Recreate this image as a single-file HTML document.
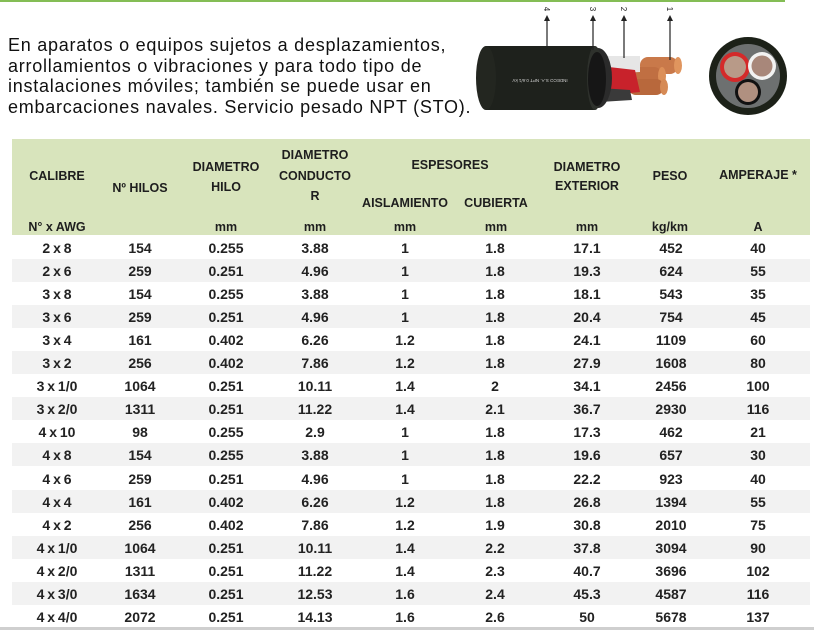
<!DOCTYPE html>
<html><head><meta charset="utf-8">
<style>
html,body{margin:0;padding:0;background:#fff;}
body{width:814px;height:630px;position:relative;overflow:hidden;font-family:"Liberation Sans",Arial,sans-serif;}
.t{position:absolute;width:140px;text-align:center;white-space:nowrap;line-height:16px;color:#1e1e1e;}
.h{font-weight:bold;font-size:12.5px;}
.d{font-weight:bold;font-size:14px;word-spacing:-1px;color:#222;}
.para{position:absolute;left:8px;top:35px;font-size:18px;line-height:20.5px;letter-spacing:0.75px;color:#111;white-space:nowrap;}
.row{position:absolute;left:12px;width:798px;height:23.1px;}
</style></head><body>
<div style="position:absolute;left:0;top:0;width:785px;height:2px;background:#84bd55;"></div>

<div class="para">En aparatos o equipos sujetos a desplazamientos,<br>arrollamientos o vibraciones y para todo tipo de<br>instalaciones móviles; también se puede usar en<br>embarcaciones navales. Servicio pesado NPT (STO).</div>

<svg style="position:absolute;left:0;top:0" width="814" height="130" xmlns="http://www.w3.org/2000/svg">
  <rect x="640" y="57" width="38" height="17" rx="8" fill="#c9794a"/>
  <ellipse cx="678" cy="65.5" rx="4" ry="8.5" fill="#e0955e"/>
  <rect x="630" y="67" width="32" height="18" rx="8" fill="#c06f42"/>
  <ellipse cx="662" cy="76" rx="4" ry="9" fill="#dc8f58"/>
  <rect x="628" y="79" width="36" height="16" rx="8" fill="#b8683c"/>
  <ellipse cx="664" cy="87" rx="4" ry="8" fill="#d68a55"/>
  <path d="M600 56 L640 56 L640 72 L600 74 Z" fill="#e6e6e6"/>
  <path d="M600 66 L635 70 L640 92 L600 96 Z" fill="#c8222b"/>
  <path d="M600 88 L630 90 L632 100 L600 102 Z" fill="#3a3a3a"/>
  <ellipse cx="598" cy="78" rx="14" ry="30" fill="#2b2b2b"/>
  <path d="M486 46 L595 46 L595 110 L486 110 Z" fill="#1e211c"/>
  <ellipse cx="486" cy="78" rx="10" ry="32" fill="#232620"/>
  <ellipse cx="595" cy="78" rx="8" ry="32" fill="#2e312c"/>
  <ellipse cx="597" cy="79" rx="9" ry="27" fill="#161616"/>
  <text x="540" y="83" font-size="4.5" fill="#cfcfcf" text-anchor="middle" transform="rotate(180 540 81)" font-family="Liberation Sans, sans-serif">INDECO S.A. NPT 0.6/1 kV</text>
  <g stroke="#222" stroke-width="1.2">
    <line x1="547" y1="18" x2="547" y2="46"/>
    <line x1="593" y1="18" x2="593" y2="50"/>
    <line x1="624" y1="18" x2="624" y2="58"/>
    <line x1="670" y1="18" x2="670" y2="60"/>
  </g>
  <g fill="#222">
    <polygon points="544,21 550,21 547,15"/>
    <polygon points="590,21 596,21 593,15"/>
    <polygon points="621,21 627,21 624,15"/>
    <polygon points="667,21 673,21 670,15"/>
  </g>
  <g font-size="8" font-family="Liberation Sans, sans-serif" fill="#222" text-anchor="middle">
    <text x="547" y="12" transform="rotate(90 547 9)">4</text>
    <text x="593" y="12" transform="rotate(90 593 9)">3</text>
    <text x="624" y="12" transform="rotate(90 624 9)">2</text>
    <text x="670" y="12" transform="rotate(90 670 9)">1</text>
  </g>
  <rect x="461" y="111" width="2" height="2" fill="#333"/>
  <circle cx="748" cy="76" r="39" fill="#1c2118"/>
  <circle cx="748" cy="76" r="32" fill="#6d7070"/>
  <circle cx="735" cy="67" r="15" fill="#d42a2a"/>
  <circle cx="735" cy="67" r="11" fill="#b89a88"/>
  <circle cx="762" cy="66" r="14" fill="#f2f2f2"/>
  <circle cx="762" cy="66" r="10.5" fill="#a8877a"/>
  <circle cx="748" cy="92" r="13" fill="#111"/>
  <circle cx="748" cy="92" r="10" fill="#b09080"/>
</svg>

<div style="position:absolute;left:12px;top:139px;width:798px;height:96px;background:#d8e4bc;"></div>
<div class="t h" style="left:-13px;top:168px">CALIBRE</div>
<div class="t h" style="left:70px;top:180px">Nº HILOS</div>
<div class="t h" style="left:156px;top:159px">DIAMETRO</div>
<div class="t h" style="left:156px;top:179px">HILO</div>
<div class="t h" style="left:245px;top:147px">DIAMETRO</div>
<div class="t h" style="left:245px;top:168px">CONDUCTO</div>
<div class="t h" style="left:245px;top:188px">R</div>
<div class="t h" style="left:380px;top:157px">ESPESORES</div>
<div class="t h" style="left:335px;top:195px">AISLAMIENTO</div>
<div class="t h" style="left:426px;top:195px">CUBIERTA</div>
<div class="t h" style="left:517px;top:159px">DIAMETRO</div>
<div class="t h" style="left:517px;top:178px">EXTERIOR</div>
<div class="t h" style="left:600px;top:168px">PESO</div>
<div class="t h" style="left:688px;top:167px">AMPERAJE *</div>
<div class="t h" style="left:-13px;top:219px">N° x AWG</div>
<div class="t h" style="left:156px;top:219px">mm</div>
<div class="t h" style="left:245px;top:219px">mm</div>
<div class="t h" style="left:335px;top:219px">mm</div>
<div class="t h" style="left:426px;top:219px">mm</div>
<div class="t h" style="left:517px;top:219px">mm</div>
<div class="t h" style="left:600px;top:219px">kg/km</div>
<div class="t h" style="left:688px;top:219px">A</div>

<div id="rows"></div>
<script>
(function(){
var data=[
["2 x 8","154","0.255","3.88","1","1.8","17.1","452","40"],
["2 x 6","259","0.251","4.96","1","1.8","19.3","624","55"],
["3 x 8","154","0.255","3.88","1","1.8","18.1","543","35"],
["3 x 6","259","0.251","4.96","1","1.8","20.4","754","45"],
["3 x 4","161","0.402","6.26","1.2","1.8","24.1","1109","60"],
["3 x 2","256","0.402","7.86","1.2","1.8","27.9","1608","80"],
["3 x 1/0","1064","0.251","10.11","1.4","2","34.1","2456","100"],
["3 x 2/0","1311","0.251","11.22","1.4","2.1","36.7","2930","116"],
["4 x 10","98","0.255","2.9","1","1.8","17.3","462","21"],
["4 x 8","154","0.255","3.88","1","1.8","19.6","657","30"],
["4 x 6","259","0.251","4.96","1","1.8","22.2","923","40"],
["4 x 4","161","0.402","6.26","1.2","1.8","26.8","1394","55"],
["4 x 2","256","0.402","7.86","1.2","1.9","30.8","2010","75"],
["4 x 1/0","1064","0.251","10.11","1.4","2.2","37.8","3094","90"],
["4 x 2/0","1311","0.251","11.22","1.4","2.3","40.7","3696","102"],
["4 x 3/0","1634","0.251","12.53","1.6","2.4","45.3","4587","116"],
["4 x 4/0","2072","0.251","14.13","1.6","2.6","50","5678","137"]
];
var cx=[57,140,226,315,405,495,587,671,758];
var h="";
for(var i=0;i<data.length;i++){
  var ty=235.5+i*23.1;
  if(i%2==1) h+='<div class="row" style="top:'+ty.toFixed(1)+'px;background:#f2f2f2"></div>';
  for(var j=0;j<9;j++){
    h+='<div class="t d" style="left:'+(cx[j]-70)+'px;top:'+(ty+4).toFixed(1)+'px">'+data[i][j]+'</div>';
  }
}
document.getElementById("rows").innerHTML=h;
})();
</script>
<div style="position:absolute;left:0;top:627px;width:814px;height:3px;background:#cfcfcf;"></div>
</body></html>
